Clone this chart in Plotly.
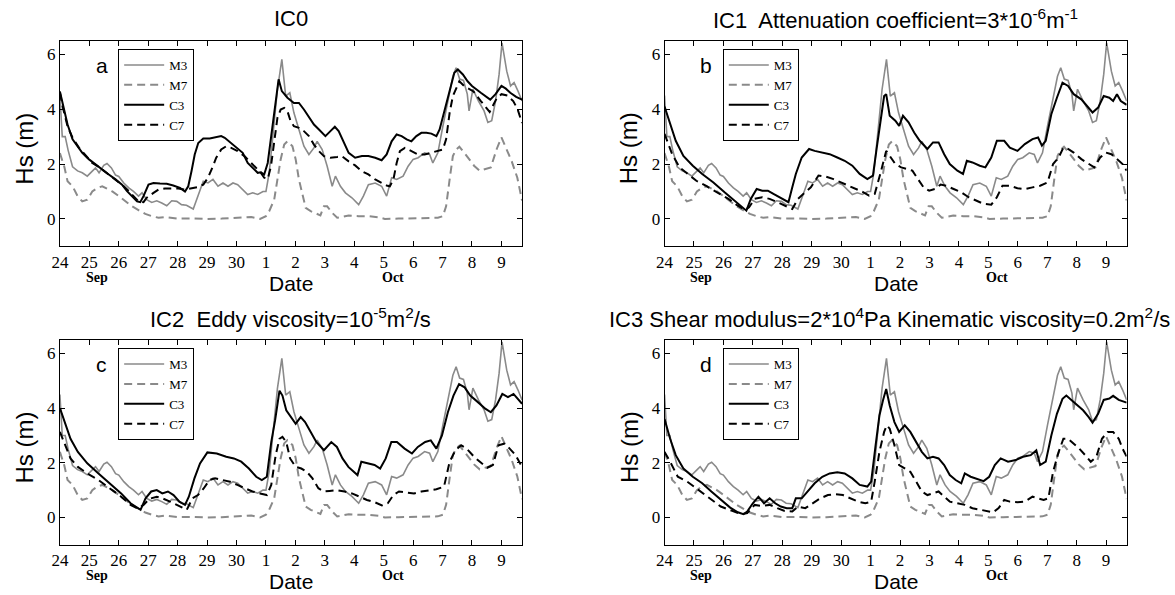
import plotly.graph_objects as go

# ---------------- data (time in days since 24 Sep, 00:00) ----------------
tick_vals = list(range(16))
tick_text = ["24", "25", "26", "27", "28", "29", "30", "1", "2", "3", "4", "5", "6", "7", "8", "9"]
y_ticks = [0, 2, 4, 6]

# measurements (same in all panels)
m3_t = [0.0, 0.08, 0.18, 0.28, 0.43, 0.6, 0.76, 0.93, 1.1, 1.21, 1.33, 1.49, 1.6, 1.75, 1.89, 2.0, 2.17, 2.34, 2.5,
        2.67, 2.79, 2.95, 3.12, 3.29, 3.46, 3.63, 3.8, 3.97, 4.13, 4.3, 4.53, 4.7, 4.87, 5.03, 5.2, 5.37, 5.54, 5.71,
        5.88, 6.04, 6.21, 6.38, 6.55, 6.72, 6.9, 7.0, 7.11, 7.28, 7.39, 7.54, 7.67, 7.81, 7.95, 8.12, 8.29, 8.46, 8.63,
        8.74, 8.91, 9.08, 9.25, 9.36, 9.53, 9.7, 9.92, 10.15, 10.31, 10.48, 10.71, 10.93, 11.1, 11.27, 11.44, 11.66,
        11.83, 12.0, 12.17, 12.39, 12.56, 12.67, 12.84, 13.01, 13.18, 13.35, 13.46, 13.58, 13.71, 13.84, 13.9, 14.03,
        14.22, 14.41, 14.54, 14.67, 14.8, 14.92, 15.02, 15.18, 15.31, 15.43, 15.56, 15.7]
m3_hs = [4.5, 3.0, 3.0, 2.5, 1.9, 1.75, 1.68, 1.56, 1.74, 1.86, 1.68, 1.95, 2.02, 1.86, 1.6, 1.55, 1.31, 1.13, 1.0,
         0.83, 0.95, 0.7, 0.6, 0.66, 0.58, 0.48, 0.66, 0.64, 0.52, 0.5, 0.36, 0.83, 1.37, 1.31, 1.44, 1.19, 1.31, 1.19,
         1.31, 1.25, 1.07, 0.89, 0.95, 0.89, 1.0, 1.0, 1.68, 3.5, 4.72, 5.82, 4.48, 4.6, 3.87, 3.26, 2.65, 2.35, 2.59,
         2.83, 2.53, 1.92, 1.19, 1.56, 1.19, 0.95, 0.77, 0.52, 0.83, 1.25, 1.31, 1.19, 0.83, 1.5, 1.44, 1.56,
         1.92, 2.17, 2.23, 2.41, 2.35, 2.04, 2.41, 3.38, 4.36, 5.2, 5.51, 5.1, 5.05, 4.55, 3.94, 4.73,
         4.3, 3.94, 3.52, 3.58, 4.3, 5.27, 6.42, 5.39, 4.85, 4.97, 4.67, 4.3]

m7_t = [0.0, 0.15, 0.26, 0.43, 0.6, 0.76, 0.93, 1.1, 1.27, 1.44, 1.6, 1.78, 2.0, 2.22, 2.45, 2.67, 2.9, 3.12, 3.35,
        3.57, 3.8, 4.02, 4.5, 5.0, 5.5, 6.0, 6.5, 6.8, 7.0, 7.11, 7.28, 7.39, 7.5, 7.62, 7.73, 7.9, 8.01, 8.12, 8.24,
        8.35, 8.52, 8.68, 8.85, 8.97, 9.08, 9.25, 9.42, 9.58, 9.81, 10.15, 10.48, 10.82, 11.04, 11.5, 12.0, 12.5,
        12.84, 13.01, 13.12, 13.24, 13.35, 13.46, 13.57, 13.74, 13.9, 14.07, 14.26, 14.45, 14.64, 14.84, 15.0, 15.15,
        15.35, 15.54, 15.7]
m7_hs = [2.4, 1.9, 1.37, 1.19, 0.83, 0.64, 0.7, 1.0, 1.13, 1.19, 1.1, 1.0, 0.83, 0.64, 0.46, 0.32, 0.18, 0.1, 0.04,
         0.07, 0.05, 0.01, 0.02, 0.0, 0.01, 0.04, 0.07, 0.0, 0.1, 0.28, 0.7, 1.44, 2.17, 2.71, 2.83, 2.65, 2.17, 1.44,
         0.83, 0.4, 0.28, 0.22, 0.13, 0.46, 0.46, 0.22, 0.04, 0.07, 0.12, 0.1, 0.1, 0.06, 0.0, 0.01, 0.03, 0.03,
         0.04, 0.1, 0.46, 1.44, 2.29, 2.53, 2.63, 2.41, 2.2, 1.94, 1.76, 1.82, 1.88, 2.55, 2.97, 2.6,
         2.1, 1.5, 0.67]

# IC0 model
c3a_t = [0.0, 0.15, 0.26, 0.43, 0.6, 0.76, 0.99, 1.21, 1.44, 1.66, 1.89, 2.11, 2.28, 2.45, 2.62, 2.73, 2.84, 3.01,
         3.18, 3.4, 3.63, 3.85, 4.08, 4.25, 4.36, 4.47, 4.58, 4.7, 4.87, 5.09, 5.31, 5.48, 5.6, 5.82, 6.04, 6.21, 6.38,
         6.55, 6.72, 6.83, 6.94, 7.06, 7.22, 7.34, 7.43, 7.54, 7.73, 7.95, 8.12, 8.29, 8.46, 8.63, 8.8, 9.02, 9.19,
         9.34, 9.47, 9.64, 9.81, 10.03, 10.26, 10.48, 10.71, 10.93, 11.1, 11.27, 11.44, 11.61, 11.78, 11.94, 12.11,
         12.28, 12.45, 12.62, 12.79, 12.9, 13.07, 13.24, 13.4, 13.52, 13.69, 13.85, 14.0, 14.3, 14.62, 14.8, 15.0,
         15.15, 15.3, 15.5, 15.7]
c3a_hs = [4.65, 3.93, 3.44, 2.9, 2.65, 2.41, 2.17, 1.98, 1.8, 1.62, 1.44, 1.25, 1.01, 0.83, 0.64, 0.61, 0.83, 1.25,
          1.31, 1.29, 1.28, 1.22, 1.13, 1.0, 1.19, 1.74, 2.35, 2.77, 2.93, 2.93, 2.99, 3.02, 2.96, 2.77, 2.59, 2.41, 2.04,
          1.86, 1.68, 1.7, 1.62, 2.04, 3.38, 4.36, 5.09, 4.66, 4.42, 4.23, 4.23, 3.99, 3.69, 3.44, 3.26, 3.02, 3.2,
          3.36, 3.2, 2.77, 2.41, 2.23, 2.29, 2.29, 2.23, 2.14, 2.35, 2.83, 3.08, 3.02, 2.9, 2.83, 3.02,
          3.14, 3.14, 3.11, 3.02, 3.26, 3.99, 4.72, 5.33, 5.45, 5.27, 5.02, 4.85, 4.6, 4.35, 4.55, 4.85,
          4.75, 4.6, 4.45, 4.35]
c7a_t = [0.0, 0.09, 0.26, 0.43, 0.65, 0.88, 1.1, 1.33, 1.55, 1.78, 2.0, 2.17, 2.34, 2.5, 2.67, 2.84, 2.95, 3.18, 3.35,
         3.57, 3.8, 4.02, 4.25, 4.47, 4.7, 4.87, 5.03, 5.2, 5.31, 5.48, 5.65, 5.82, 6.04, 6.27, 6.49, 6.66, 6.83, 6.94,
         7.06, 7.17, 7.28, 7.39, 7.5, 7.62, 7.73, 7.84, 7.95, 8.12, 8.29, 8.46, 8.63, 8.8, 8.97, 9.19, 9.42, 9.58,
         9.81, 10.03, 10.26, 10.48, 10.71, 10.93, 11.1, 11.21, 11.33, 11.44, 11.55, 11.72, 11.94, 12.17, 12.39, 12.62,
         12.84, 13.01, 13.12, 13.24, 13.35, 13.46, 13.57, 13.74, 13.9, 14.05, 14.3, 14.6, 14.84, 15.0, 15.2, 15.4,
         15.55, 15.7]
c7a_hs = [4.6, 4.11, 3.38, 2.96, 2.59, 2.29, 2.04, 1.89, 1.7, 1.53, 1.34, 1.19, 1.01, 0.83, 0.64, 0.61, 0.77, 0.95, 1.07,
          1.11, 1.11, 1.11, 1.07, 1.11, 1.16, 1.25, 1.5, 1.92, 2.23, 2.53, 2.65, 2.59, 2.47, 2.29, 2.04, 1.86, 1.68, 1.5,
          1.46, 1.92, 2.9, 3.69, 3.99, 4.05, 3.93, 3.56, 3.38, 3.32, 3.2, 3.02, 2.71, 2.47, 2.29, 2.23, 2.26, 2.29,
          2.1, 1.95, 1.74, 1.62, 1.44, 1.31, 1.22, 1.19, 1.44, 2.04, 2.47, 2.59, 2.47, 2.35, 2.35, 2.41,
          2.47, 2.53, 2.9, 3.87, 4.48, 4.78, 5.02, 4.84, 4.75, 4.65, 4.3, 3.9, 4.4, 4.55, 4.5, 4.3,
          4.0, 3.5]

# IC1 model
c3b_t = [0.0, 0.19, 0.38, 0.64, 0.96, 1.28, 1.66, 2.04, 2.42, 2.68, 2.78, 2.93, 3.13, 3.32, 3.51, 3.7, 3.89, 4.08,
         4.21, 4.34, 4.46, 4.66, 4.91, 5.1, 5.36, 5.61, 5.87, 6.12, 6.38, 6.63, 6.89, 7.08, 7.21, 7.33, 7.46, 7.53,
         7.65, 7.84, 7.97, 8.1, 8.29, 8.48, 8.67, 8.93, 9.12, 9.31, 9.5, 9.69, 9.95, 10.14, 10.27, 10.46, 10.71, 10.9,
         11.1, 11.29, 11.54, 11.73, 11.99, 12.24, 12.5, 12.69, 12.82, 12.95, 13.14, 13.33, 13.52, 13.71, 13.9, 14.16,
         14.35, 14.54, 14.73, 14.92, 15.11, 15.24, 15.37, 15.5, 15.7]
c3b_hs = [4.1, 3.45, 2.85, 2.3, 1.94, 1.64, 1.33, 0.97, 0.61, 0.36, 0.3, 0.73, 1.09, 1.03, 1.03, 0.91, 0.79, 0.67,
          0.61, 1.15, 1.64, 2.24, 2.55, 2.48, 2.42, 2.36, 2.24, 2.12, 1.94, 1.64, 1.45, 1.58, 2.6, 3.58, 4.48, 4.55,
          3.76, 3.58, 3.39, 3.76, 3.52, 3.15, 2.85, 2.55, 2.79, 2.79, 2.36, 2.0, 1.76, 1.64, 2.12, 2.06, 1.94, 1.88,
          2.24, 2.85, 2.85, 2.6, 2.48, 2.73, 2.91, 2.97, 2.67, 2.85, 3.82, 4.42, 4.97, 4.85, 4.55, 4.36,
          4.12, 3.88, 4.06, 4.48, 4.42, 4.3, 4.55, 4.3, 4.16]
c7b_t = [0.0, 0.26, 0.51, 0.77, 1.08, 1.4, 1.79, 2.17, 2.49, 2.74, 2.87, 3.06, 3.32, 3.57, 3.83, 4.08, 4.34, 4.53,
         4.72, 4.97, 5.23, 5.48, 5.74, 6.0, 6.25, 6.51, 6.76, 6.95, 7.14, 7.33, 7.53, 7.65, 7.84, 8.04, 8.23, 8.42,
         8.61, 8.8, 8.99, 9.18, 9.38, 9.57, 9.82, 10.08, 10.33, 10.59, 10.84, 11.1, 11.29, 11.48, 11.73, 11.99, 12.24,
         12.5, 12.76, 13.01, 13.2, 13.39, 13.55, 13.71, 13.9, 14.16, 14.41, 14.6, 14.8, 14.99, 15.18, 15.37, 15.56,
         15.7]
c7b_hs = [3.1, 2.36, 1.88, 1.64, 1.39, 1.21, 0.97, 0.73, 0.48, 0.33, 0.42, 0.73, 0.79, 0.73, 0.61, 0.48, 0.36, 0.73,
          0.91, 1.15, 1.58, 1.54, 1.45, 1.33, 1.21, 1.09, 0.97, 0.85, 0.91, 1.64, 2.48, 2.3, 2.0, 1.88, 1.82, 1.76,
          1.45, 1.15, 1.03, 1.09, 1.25, 1.21, 1.09, 0.97, 0.79, 0.67, 0.55, 0.52, 0.79, 1.21, 1.21, 1.12, 1.09,
          1.15, 1.21, 1.33, 2.0, 2.24, 2.6, 2.55, 2.42, 2.18, 2.0, 1.88, 2.24, 2.42, 2.36, 2.18, 2.0,
          1.76]

# IC2 model
c3c_t = [0.0, 0.17, 0.36, 0.61, 0.93, 1.31, 1.7, 2.08, 2.4, 2.65, 2.74, 2.91, 3.1, 3.29, 3.48, 3.67, 3.86, 4.06, 4.25,
         4.38, 4.57, 4.76, 5.01, 5.33, 5.65, 5.91, 6.16, 6.42, 6.67, 6.86, 7.03, 7.18, 7.31, 7.46, 7.56, 7.69, 7.88,
         8.01, 8.18, 8.33, 8.52, 8.71, 8.97, 9.22, 9.41, 9.6, 9.8, 9.99, 10.11, 10.24, 10.43, 10.69, 10.88, 11.07,
         11.26, 11.45, 11.71, 11.96, 12.16, 12.41, 12.6, 12.79, 12.98, 13.18, 13.37, 13.56, 13.75, 13.94, 14.2, 14.45,
         14.64, 14.83, 15.03, 15.22, 15.41, 15.54, 15.7]
c3c_hs = [4.0, 3.49, 2.88, 2.4, 1.98, 1.61, 1.25, 0.88, 0.52, 0.34, 0.28, 0.7, 0.95, 1.0, 0.88, 0.95, 0.82, 0.58, 0.46,
          0.76, 1.43, 1.98, 2.38, 2.34, 2.22, 2.16, 2.04, 1.79, 1.49, 1.37, 1.49, 2.76, 3.55, 4.64, 4.46, 3.92, 3.61,
          3.43, 3.67, 3.49, 3.13, 2.76, 2.46, 2.76, 2.58, 2.16, 1.85, 1.67, 1.55, 2.04, 1.98, 1.92, 1.79, 2.16,
          2.76, 2.76, 2.52, 2.34, 2.58, 2.76, 2.82, 2.52, 3.0, 3.85, 4.46, 4.88, 4.76, 4.46, 4.22, 3.98,
          3.85, 4.1, 4.52, 4.4, 4.52, 4.34, 4.16]
c7c_t = [0.0, 0.17, 0.36, 0.61, 0.93, 1.31, 1.7, 2.08, 2.4, 2.65, 2.84, 3.04, 3.29, 3.48, 3.74, 3.99, 4.18, 4.31, 4.5,
         4.69, 4.89, 5.08, 5.27, 5.52, 5.78, 6.03, 6.29, 6.54, 6.8, 7.03, 7.18, 7.33, 7.46, 7.56, 7.69, 7.82, 8.01, 8.2,
         8.39, 8.58, 8.78, 8.97, 9.16, 9.41, 9.67, 9.92, 10.18, 10.43, 10.69, 10.94, 11.14, 11.33, 11.52, 11.77, 12.03,
         12.28, 12.54, 12.79, 13.05, 13.24, 13.44, 13.63, 13.82, 14.07, 14.33, 14.52, 14.71, 14.9, 15.09, 15.28, 15.48,
         15.7]
c7c_hs = [3.13, 2.64, 2.16, 1.85, 1.61, 1.37, 1.07, 0.76, 0.46, 0.32, 0.46, 0.68, 0.76, 0.7, 0.58, 0.46, 0.34, 0.28,
          0.7, 0.82, 1.07, 1.37, 1.43, 1.37, 1.31, 1.19, 1.07, 0.95, 0.88, 0.82, 1.19, 2.28, 2.88, 2.95, 2.76, 2.16,
          1.85, 1.79, 1.67, 1.43, 1.07, 0.95, 0.97, 1.0, 0.95, 0.88, 0.76, 0.64, 0.56, 0.44, 0.52, 0.82, 0.95,
          0.91, 0.88, 0.95, 1.0, 1.03, 1.13, 2.04, 2.46, 2.64, 2.52, 2.22, 1.98, 1.82, 1.92, 2.64, 2.7,
          2.52, 2.28, 1.85]

# IC3 model
c3d_t = [0.0, 0.19, 0.38, 0.64, 0.96, 1.28, 1.59, 1.91, 2.23, 2.49, 2.68, 2.81, 3.0, 3.19, 3.38, 3.57, 3.76, 3.95,
         4.15, 4.34, 4.46, 4.66, 4.85, 5.1, 5.36, 5.61, 5.87, 6.12, 6.38, 6.63, 6.89, 7.02, 7.17, 7.3, 7.42, 7.53, 7.65,
         7.81, 7.97, 8.16, 8.35, 8.55, 8.74, 8.93, 9.12, 9.31, 9.5, 9.69, 9.89, 10.08, 10.2, 10.4, 10.65, 10.84, 11.03,
         11.22, 11.42, 11.67, 11.93, 12.18, 12.44, 12.63, 12.76, 12.95, 13.14, 13.33, 13.52, 13.65, 13.84, 14.03,
         14.22, 14.41, 14.54, 14.73, 14.92, 15.11, 15.24, 15.43, 15.56, 15.7]
c3d_hs = [3.6, 2.88, 2.28, 1.79, 1.49, 1.25, 0.95, 0.64, 0.36, 0.19, 0.12, 0.22, 0.52, 0.76, 0.52, 0.7, 0.52, 0.4,
          0.34, 0.34, 0.7, 0.7, 0.95, 1.25, 1.49, 1.61, 1.65, 1.61, 1.43, 1.19, 1.13, 1.31, 2.64, 3.73, 4.28, 4.7, 4.1,
          3.49, 3.13, 3.37, 3.13, 2.76, 2.4, 2.16, 2.22, 2.16, 1.92, 1.55, 1.37, 1.25, 1.61, 1.49, 1.41, 1.33, 1.49,
          1.92, 2.16, 2.04, 2.1, 2.22, 2.28, 2.46, 1.92, 2.04, 3.0, 3.79, 4.34, 4.46, 4.28, 4.1,
          3.92, 3.67, 3.47, 3.79, 4.3, 4.35, 4.45, 4.3, 4.25, 4.2]
c7d_t = [0.0, 0.19, 0.45, 0.77, 1.15, 1.53, 1.91, 2.3, 2.61, 2.81, 3.06, 3.32, 3.57, 3.83, 4.08, 4.34, 4.53, 4.78,
         5.04, 5.29, 5.55, 5.8, 6.06, 6.31, 6.57, 6.82, 7.02, 7.14, 7.3, 7.46, 7.55, 7.65, 7.81, 7.97, 8.16, 8.35, 8.55,
         8.74, 8.93, 9.12, 9.31, 9.5, 9.69, 9.95, 10.2, 10.46, 10.71, 10.97, 11.16, 11.35, 11.54, 11.73, 11.99, 12.24,
         12.5, 12.69, 12.88, 13.04, 13.2, 13.39, 13.55, 13.71, 13.9, 14.09, 14.29, 14.48, 14.67, 14.86, 15.05, 15.24,
         15.43, 15.56, 15.7]
c7d_hs = [2.4, 2.04, 1.49, 1.31, 1.01, 0.7, 0.4, 0.24, 0.12, 0.16, 0.46, 0.42, 0.46, 0.34, 0.24, 0.22, 0.4, 0.34,
          0.52, 0.7, 0.82, 0.85, 0.82, 0.7, 0.58, 0.52, 0.58, 1.31, 2.4, 3.13, 3.37, 3.25, 2.64, 1.92, 1.79, 1.67, 1.31,
          0.95, 0.82, 0.88, 0.95, 0.76, 0.58, 0.52, 0.46, 0.34, 0.28, 0.22, 0.19, 0.34, 0.64, 0.58, 0.56, 0.58,
          0.76, 0.7, 0.64, 0.7, 1.67, 2.4, 2.88, 2.88, 2.7, 2.52, 2.28, 2.04, 2.22, 2.88, 3.13, 3.13,
          2.88, 2.52, 2.22]

panel_titles = ["IC0",
                "IC1&nbsp; Attenuation coefficient=3*10<sup>-6</sup>m<sup>-1</sup>",
                "IC2&nbsp; Eddy viscosity=10<sup>-5</sup>m<sup>2</sup>/s",
                "IC3 Shear modulus=2*10<sup>4</sup>Pa Kinematic viscosity=0.2m<sup>2</sup>/s"]
panel_letters = ["a", "b", "c", "d"]
model_c3 = [(c3a_t, c3a_hs), (c3b_t, c3b_hs), (c3c_t, c3c_hs), (c3d_t, c3d_hs)]
model_c7 = [(c7a_t, c7a_hs), (c7b_t, c7b_hs), (c7c_t, c7c_hs), (c7d_t, c7d_hs)]

# ---------------- layout geometry (pixels) ----------------
W, H = 1175, 595
boxes = [(51.3, 517.0, 40.7, 246.3), (660.6, 1126.3, 40.7, 246.3),
         (51.3, 517.0, 339.8, 544.8), (660.6, 1126.3, 339.8, 544.8)]
title_shift = [0, 0, 0, -6]


def fx(p):
    return p / W


def fy(p):
    return 1 - p / H


GRAY = "#8a8a8a"
SANS = "Liberation Sans, Arial, sans-serif"
SERIF = "Liberation Serif, Times New Roman, serif"

fig = go.Figure()
layout = dict(width=W, height=H, margin=dict(l=0, r=0, t=0, b=0),
              paper_bgcolor="white", plot_bgcolor="white", annotations=[])

for i in range(4):
    k = "" if i == 0 else str(i + 1)
    xa, ya, lg = "x" + k, "y" + k, "legend" + k
    styles = [("M3", m3_t, m3_hs, GRAY, 1.6, "solid"),
              ("M7", m7_t, m7_hs, GRAY, 2.0, "8px,5px"),
              ("C3", model_c3[i][0], model_c3[i][1], "black", 2.0, "solid"),
              ("C7", model_c7[i][0], model_c7[i][1], "black", 2.0, "8px,5px")]
    for name, t, v, col, w, dash in styles:
        fig.add_trace(go.Scatter(x=t, y=v, name=name, mode="lines", xaxis=xa, yaxis=ya, legend=lg,
                                 line=dict(color=col, width=w, dash=dash), showlegend=True))
    x0, x1, y0, y1 = boxes[i]
    common = dict(showline=True, linecolor="black", linewidth=1, mirror="ticks", ticks="inside",
                  ticklen=5, tickcolor="black", showgrid=False, zeroline=False,
                  tickfont=dict(family=SERIF, size=17, color="black"))
    layout["xaxis" + k] = dict(domain=[fx(x0), fx(x1)], anchor=ya, range=[0, 15.7],
                               tickvals=tick_vals, ticktext=tick_text, **common)
    layout["yaxis" + k] = dict(domain=[fy(y1), fy(y0)], anchor=xa, range=[-1, 6.5],
                               tickvals=y_ticks, **common)
    layout[lg] = dict(x=fx(x0 + 58.7), y=fy(y0 + 8.3), xanchor="left", yanchor="top",
                      bordercolor="black", borderwidth=1, bgcolor="white", itemwidth=40,
                      tracegroupgap=0, traceorder="normal",
                      font=dict(family=SERIF, size=13, color="black"))
    cx = (x0 + x1) / 2
    ann = layout["annotations"]
    ann.append(dict(text=panel_titles[i], x=fx(cx + title_shift[i]), y=fy(y0 - 22), xref="paper", yref="paper",
                    showarrow=False, xanchor="center", yanchor="middle",
                    font=dict(family=SANS, size=22, color="black")))
    ann.append(dict(text="Hs (m)", x=fx(x0 - 36), y=fy((y0 + y1) / 2 + 5), xref="paper", yref="paper",
                    showarrow=False, textangle=-90, xanchor="center", yanchor="middle",
                    font=dict(family=SANS, size=24, color="black")))
    ann.append(dict(text="Date", x=fx(cx), y=fy(y1 + 37), xref="paper", yref="paper",
                    showarrow=False, xanchor="center", yanchor="middle",
                    font=dict(family=SANS, size=21, color="black")))
    ann.append(dict(text="<b>Sep</b>", x=1.25, y=fy(y1 + 31), xref=xa, yref="paper",
                    showarrow=False, xanchor="center", yanchor="middle",
                    font=dict(family=SERIF, size=14, color="black")))
    ann.append(dict(text="<b>Oct</b>", x=11.3, y=fy(y1 + 31), xref=xa, yref="paper",
                    showarrow=False, xanchor="center", yanchor="middle",
                    font=dict(family=SERIF, size=14, color="black")))
    ann.append(dict(text=panel_letters[i], x=fx(x0 + 42), y=fy(y0 + 25), xref="paper", yref="paper",
                    showarrow=False, xanchor="center", yanchor="middle",
                    font=dict(family=SANS, size=21, color="black")))

fig.update_layout(**layout)
fig.write_html("out.html")
